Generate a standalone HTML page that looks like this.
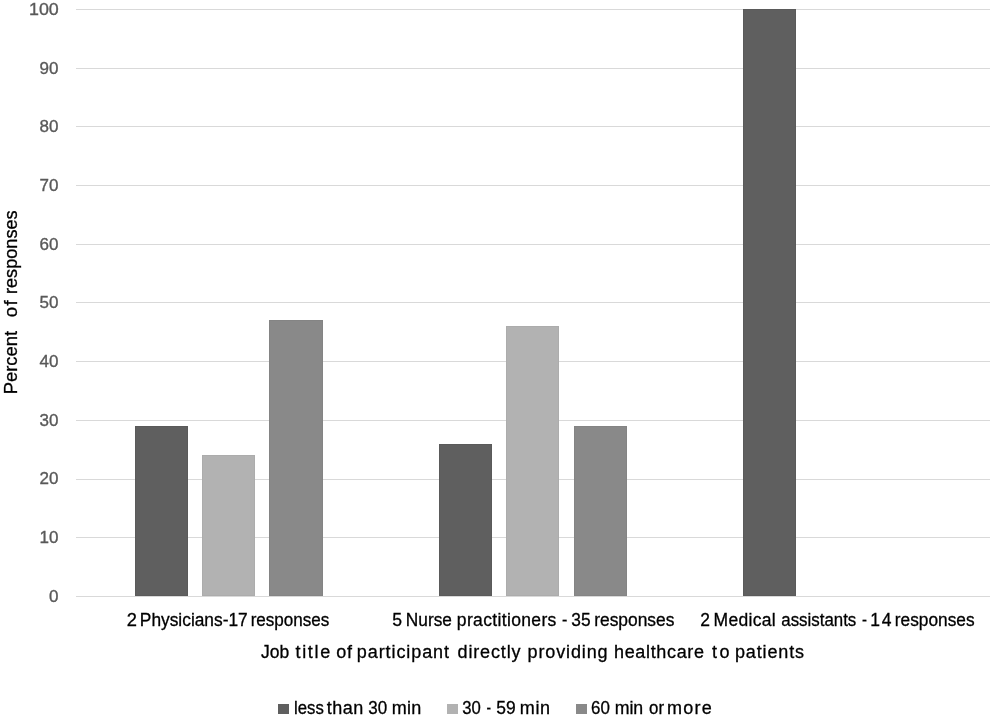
<!DOCTYPE html>
<html><head><meta charset="utf-8"><style>
html,body{margin:0;padding:0;background:#fff;width:995px;height:718px;overflow:hidden}
svg{display:block;font-family:"Liberation Sans",sans-serif;-webkit-font-smoothing:antialiased;will-change:transform}
text{white-space:pre}
</style></head><body>
<svg width="995" height="718" viewBox="0 0 995 718">
<rect width="995" height="718" fill="#fff"/>
<rect x="76" y="9" width="914" height="1" fill="#d9d9d9"/>
<rect x="76" y="68" width="914" height="1" fill="#d9d9d9"/>
<rect x="76" y="126" width="914" height="1" fill="#d9d9d9"/>
<rect x="76" y="185" width="914" height="1" fill="#d9d9d9"/>
<rect x="76" y="244" width="914" height="1" fill="#d9d9d9"/>
<rect x="76" y="302" width="914" height="1" fill="#d9d9d9"/>
<rect x="76" y="361" width="914" height="1" fill="#d9d9d9"/>
<rect x="76" y="420" width="914" height="1" fill="#d9d9d9"/>
<rect x="76" y="479" width="914" height="1" fill="#d9d9d9"/>
<rect x="76" y="537" width="914" height="1" fill="#d9d9d9"/>
<rect x="76" y="596" width="914" height="1" fill="#d9d9d9"/>
<rect x="135" y="426" width="53" height="170" fill="#5f5f5f"/>
<rect x="135.5" y="426.5" width="52" height="169" fill="none" stroke="#585858" stroke-width="1" opacity="0.7"/>
<rect x="202" y="455" width="53" height="141" fill="#b2b2b2"/>
<rect x="202.5" y="455.5" width="52" height="140" fill="none" stroke="#aaaaaa" stroke-width="1" opacity="0.7"/>
<rect x="269" y="320" width="54" height="276" fill="#898989"/>
<rect x="269.5" y="320.5" width="53" height="275" fill="none" stroke="#828282" stroke-width="1" opacity="0.7"/>
<rect x="439" y="444" width="53" height="152" fill="#5f5f5f"/>
<rect x="439.5" y="444.5" width="52" height="151" fill="none" stroke="#585858" stroke-width="1" opacity="0.7"/>
<rect x="506" y="326" width="53" height="270" fill="#b2b2b2"/>
<rect x="506.5" y="326.5" width="52" height="269" fill="none" stroke="#aaaaaa" stroke-width="1" opacity="0.7"/>
<rect x="574" y="426" width="53" height="170" fill="#898989"/>
<rect x="574.5" y="426.5" width="52" height="169" fill="none" stroke="#828282" stroke-width="1" opacity="0.7"/>
<rect x="743" y="9" width="53" height="587" fill="#5f5f5f"/>
<rect x="743.5" y="9.5" width="52" height="586" fill="none" stroke="#585858" stroke-width="1" opacity="0.7"/>
<text x="58.5" y="601.8" text-anchor="end" font-size="17" fill="#595959" stroke="#595959" stroke-width="0.35">0</text>
<text x="58.5" y="543.1" text-anchor="end" font-size="17" fill="#595959" stroke="#595959" stroke-width="0.35">10</text>
<text x="58.5" y="484.4" text-anchor="end" font-size="17" fill="#595959" stroke="#595959" stroke-width="0.35">20</text>
<text x="58.5" y="425.7" text-anchor="end" font-size="17" fill="#595959" stroke="#595959" stroke-width="0.35">30</text>
<text x="58.5" y="367.0" text-anchor="end" font-size="17" fill="#595959" stroke="#595959" stroke-width="0.35">40</text>
<text x="58.5" y="308.3" text-anchor="end" font-size="17" fill="#595959" stroke="#595959" stroke-width="0.35">50</text>
<text x="58.5" y="249.6" text-anchor="end" font-size="17" fill="#595959" stroke="#595959" stroke-width="0.35">60</text>
<text x="58.5" y="190.9" text-anchor="end" font-size="17" fill="#595959" stroke="#595959" stroke-width="0.35">70</text>
<text x="58.5" y="132.2" text-anchor="end" font-size="17" fill="#595959" stroke="#595959" stroke-width="0.35">80</text>
<text x="58.5" y="73.5" text-anchor="end" font-size="17" fill="#595959" stroke="#595959" stroke-width="0.35">90</text>
<text x="29" y="14.8" font-size="17" fill="#595959" stroke="#595959" stroke-width="0.35" textLength="29.8" lengthAdjust="spacingAndGlyphs">100</text>
<text x="126.88" y="626" font-size="17.5" fill="#000" stroke="#000" stroke-width="0.3" textLength="10.18" lengthAdjust="spacingAndGlyphs">2</text>
<text x="139.87" y="626" font-size="17.5" fill="#000" stroke="#000" stroke-width="0.3" textLength="107.85" lengthAdjust="spacingAndGlyphs">Physicians-17</text>
<text x="250.64" y="626" font-size="17.5" fill="#000" stroke="#000" stroke-width="0.3" textLength="78.75" lengthAdjust="spacingAndGlyphs">responses</text>
<text x="392.30" y="626" font-size="17.5" fill="#000" stroke="#000" stroke-width="0.3" textLength="9.79" lengthAdjust="spacingAndGlyphs">5</text>
<text x="405.87" y="626" font-size="17.5" fill="#000" stroke="#000" stroke-width="0.3" textLength="46.04" lengthAdjust="spacingAndGlyphs">Nurse</text>
<text x="456.86" y="626" font-size="17.5" fill="#000" stroke="#000" stroke-width="0.3" textLength="99.44" lengthAdjust="spacing">practitioners</text>
<text x="561.97" y="626" font-size="17.5" fill="#000" stroke="#000" stroke-width="0.3" textLength="5.33" lengthAdjust="spacingAndGlyphs">-</text>
<text x="571.36" y="626" font-size="17.5" fill="#000" stroke="#000" stroke-width="0.3" textLength="19.28" lengthAdjust="spacingAndGlyphs">35</text>
<text x="594.19" y="626" font-size="17.5" fill="#000" stroke="#000" stroke-width="0.3" textLength="80.24" lengthAdjust="spacingAndGlyphs">responses</text>
<text x="700.28" y="626" font-size="17.5" fill="#000" stroke="#000" stroke-width="0.3" textLength="9.72" lengthAdjust="spacingAndGlyphs">2</text>
<text x="713.49" y="626" font-size="17.5" fill="#000" stroke="#000" stroke-width="0.3" textLength="62.18" lengthAdjust="spacing">Medical</text>
<text x="781.28" y="626" font-size="17.5" fill="#000" stroke="#000" stroke-width="0.3" textLength="75.02" lengthAdjust="spacingAndGlyphs">assistants</text>
<text x="861.90" y="626" font-size="17.5" fill="#000" stroke="#000" stroke-width="0.3" textLength="4.96" lengthAdjust="spacingAndGlyphs">-</text>
<text x="870.15" y="626" font-size="17.5" fill="#000" stroke="#000" stroke-width="0.3" textLength="21.44" lengthAdjust="spacing">14</text>
<text x="894.79" y="626" font-size="17.5" fill="#000" stroke="#000" stroke-width="0.3" textLength="79.75" lengthAdjust="spacingAndGlyphs">responses</text>
<text x="261.06" y="658" font-size="18" fill="#000" stroke="#000" stroke-width="0.3" textLength="28.23" lengthAdjust="spacingAndGlyphs">Job</text>
<text x="295.59" y="658" font-size="18" fill="#000" stroke="#000" stroke-width="0.3" textLength="34.58" lengthAdjust="spacing">title</text>
<text x="336.20" y="658" font-size="18" fill="#000" stroke="#000" stroke-width="0.3" textLength="15.75" lengthAdjust="spacing">of</text>
<text x="356.85" y="658" font-size="18" fill="#000" stroke="#000" stroke-width="0.3" textLength="92.21" lengthAdjust="spacing">participant</text>
<text x="457.59" y="658" font-size="18" fill="#000" stroke="#000" stroke-width="0.3" textLength="62.88" lengthAdjust="spacing">directly</text>
<text x="527.55" y="658" font-size="18" fill="#000" stroke="#000" stroke-width="0.3" textLength="80.00" lengthAdjust="spacing">providing</text>
<text x="614.00" y="658" font-size="18" fill="#000" stroke="#000" stroke-width="0.3" textLength="89.97" lengthAdjust="spacing">healthcare</text>
<text x="712.00" y="658" font-size="18" fill="#000" stroke="#000" stroke-width="0.3" textLength="17.42" lengthAdjust="spacing">to</text>
<text x="735.00" y="658" font-size="18" fill="#000" stroke="#000" stroke-width="0.3" textLength="69.02" lengthAdjust="spacing">patients</text>
<text x="294.10" y="714" font-size="18" fill="#000" stroke="#000" stroke-width="0.3" textLength="29.75" lengthAdjust="spacingAndGlyphs">less</text>
<text x="326.79" y="714" font-size="18" fill="#000" stroke="#000" stroke-width="0.3" textLength="36.39" lengthAdjust="spacing">than</text>
<text x="368.26" y="714" font-size="18" fill="#000" stroke="#000" stroke-width="0.3" textLength="18.90" lengthAdjust="spacingAndGlyphs">30</text>
<text x="391.67" y="714" font-size="18" fill="#000" stroke="#000" stroke-width="0.3" textLength="29.55" lengthAdjust="spacing">min</text>
<text x="462.14" y="714" font-size="18" fill="#000" stroke="#000" stroke-width="0.3" textLength="18.57" lengthAdjust="spacingAndGlyphs">30</text>
<text x="486.56" y="714" font-size="18" fill="#000" stroke="#000" stroke-width="0.3" textLength="4.54" lengthAdjust="spacingAndGlyphs">-</text>
<text x="496.36" y="714" font-size="18" fill="#000" stroke="#000" stroke-width="0.3" textLength="19.41" lengthAdjust="spacingAndGlyphs">59</text>
<text x="519.80" y="714" font-size="18" fill="#000" stroke="#000" stroke-width="0.3" textLength="30.22" lengthAdjust="spacing">min</text>
<text x="591.12" y="714" font-size="18" fill="#000" stroke="#000" stroke-width="0.3" textLength="18.80" lengthAdjust="spacingAndGlyphs">60</text>
<text x="614.63" y="714" font-size="18" fill="#000" stroke="#000" stroke-width="0.3" textLength="28.58" lengthAdjust="spacingAndGlyphs">min</text>
<text x="649.04" y="714" font-size="18" fill="#000" stroke="#000" stroke-width="0.3" textLength="14.98" lengthAdjust="spacingAndGlyphs">or</text>
<text x="667.00" y="714" font-size="18" fill="#000" stroke="#000" stroke-width="0.3" textLength="44.79" lengthAdjust="spacing">more</text>
<g transform="translate(17,400) rotate(-90)"><text x="5.86" y="0" font-size="18.5" fill="#000" stroke="#000" stroke-width="0.3" textLength="63.15" lengthAdjust="spacingAndGlyphs">Percent</text><text x="82.76" y="0" font-size="18.5" fill="#000" stroke="#000" stroke-width="0.3" textLength="16.88" lengthAdjust="spacing">of</text><text x="106.00" y="0" font-size="18.5" fill="#000" stroke="#000" stroke-width="0.3" textLength="83.63" lengthAdjust="spacingAndGlyphs">responses</text></g>
<rect x="278" y="704" width="11" height="10" fill="#5f5f5f"/>
<rect x="447" y="704" width="11" height="10" fill="#b2b2b2"/>
<rect x="576" y="704" width="11" height="10" fill="#898989"/>
</svg>
</body></html>
